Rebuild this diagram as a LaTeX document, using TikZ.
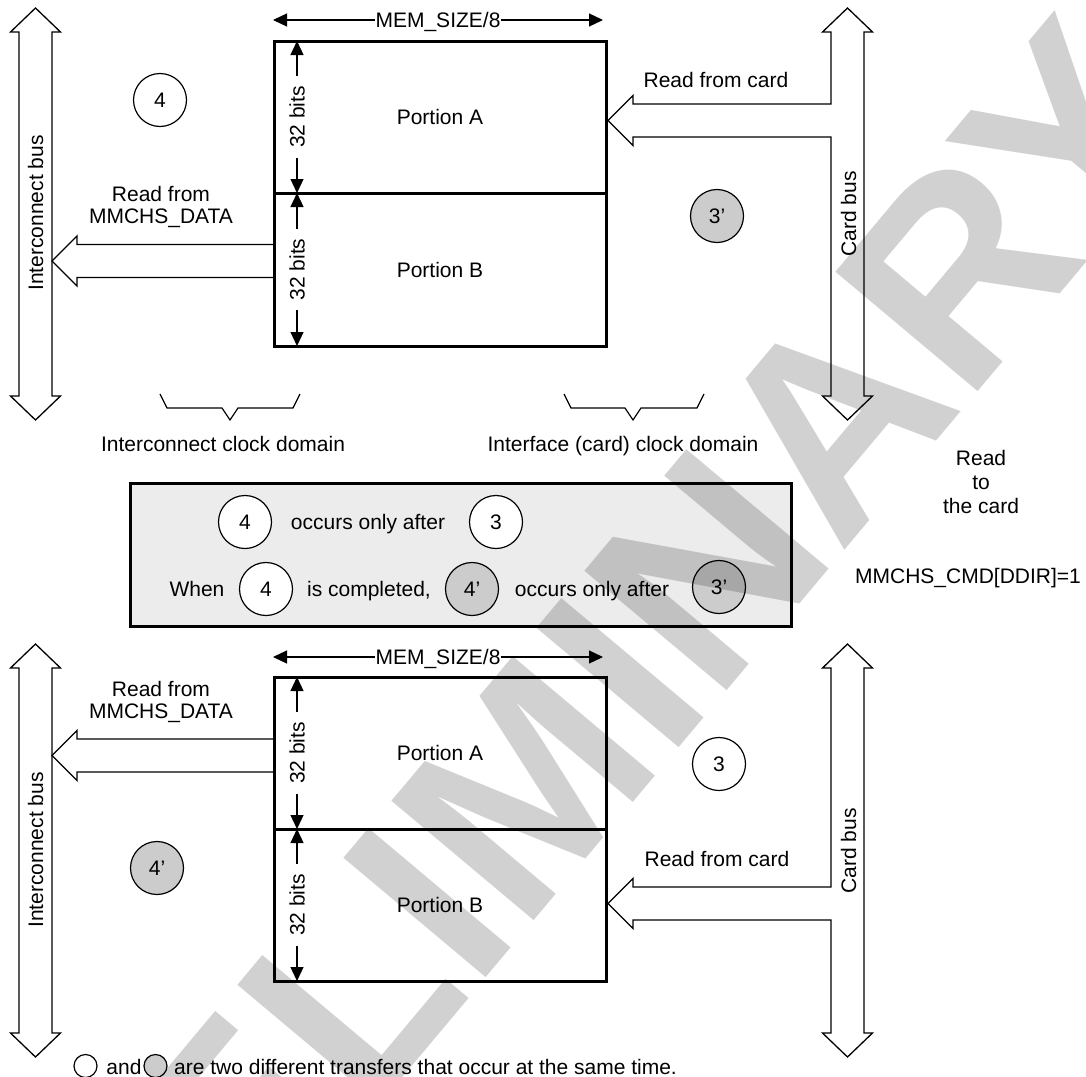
\documentclass[tikz,border=0pt]{standalone}
\usepackage{fontspec}
\setmainfont{Liberation Sans}
\usetikzlibrary{arrows.meta}
\definecolor{cgray}{RGB}{204,204,204}
\definecolor{boxgray}{RGB}{236,236,236}
\begin{document}
\begin{tikzpicture}[x=1pt,y=-1pt,
  font=\fontsize{21pt}{22.5pt}\selectfont,
  every node/.style={inner sep=0pt},
  t/.style={text height=15.3pt, text depth=0pt},
  portion/.style={draw, line width=3pt, minimum width=332pt, minimum height=152pt, t},
  tr/.style={circle, draw, line width=1.2pt, minimum size=53pt, fill=white, t},
  trg/.style={tr, fill=cgray},
  busline/.style={draw, line width=1.3pt, fill=white, line join=miter},
  dimarr/.style={line width=1.2pt, {Triangle[length=14pt,width=13pt]}-{Triangle[length=14pt,width=13pt]}},
  lbl32/.style={rotate=90, fill=white, inner xsep=10pt, t},
  memlbl/.style={fill=white, inner xsep=1pt, t},
  bracestyle/.style={line width=1.2pt},
  wm/.style={font=\fontsize{270pt}{270pt}\selectfont\bfseries, text=black, text opacity=0.18}
]
\clip (0,0) rectangle (1086,1076);
\fill[white] (0,0) rectangle (1086,1076);

% ================= TOP SECTION =================
% interconnect bus
\draw[busline] (35.5,8) -- (60.5,32) -- (52,32) -- (52,396) -- (60.5,396) -- (35.5,420) -- (10.5,396) -- (19,396) -- (19,32) -- (10.5,32) -- cycle;
\node[rotate=90, t] (ib1) at (35.5,213) {Interconnect bus};
% read from MMCHS_DATA arrow
\draw[busline] (274,244.5) -- (77,244.5) -- (77,236) -- (52,261) -- (77,286) -- (77,277.5) -- (274,277.5);
\node[align=center] (rd1) at (161,207) {Read from\\MMCHS\_DATA};
% card bus with read-from-card arrow
\draw[busline] (831,104) -- (831,32) -- (822.5,32) -- (847.5,8) -- (872.5,32) -- (864,32) -- (864,396) -- (872.5,396) -- (847.5,420) -- (822.5,396) -- (831,396) -- (831,137) -- (633,137) -- (633,145.5) -- (608,120.5) -- (633,95.5) -- (633,104) -- cycle;
\node[rotate=90, t] (cb1) at (848.5,214) {Card bus};
\node[t] (rc1) at (716,80) {Read from card};
% memory blocks
\node[portion] (pA1) at (440,117) {Portion A};
\node[portion, minimum height=153pt] (pB1) at (440,269.5) {Portion B};
\coordinate (d1a) at (297,41);
\coordinate (d1b) at (297,193);
\coordinate (d1c) at (297,346);
\draw[dimarr] (d1a) -- node[lbl32] {32 bits} (d1b);
\draw[dimarr] (d1b) -- node[lbl32] {32 bits} (d1c);
\coordinate (m1l) at (273,20);
\coordinate (m1r) at (603,20);
\draw[dimarr] (m1l) -- node[memlbl] {MEM\_SIZE/8} (m1r);
% transfers
\node[tr] (c4a) at (160,100) {4};
\node[trg] (c3pa) at (717,216) {3’};
% braces
\draw[bracestyle] (160,394) -- (167,408) -- (222,408) -- (230,420) -- (238,408) -- (293,408) -- (300,394);
\draw[bracestyle] (564,394) -- (571,408) -- (625,408) -- (633,420) -- (641,408) -- (697,408) -- (704,394);
\node[t] (icd) at (223,444) {Interconnect clock domain};
\node[t] (fcd) at (623,444) {Interface (card) clock domain};
% right notes
\node[align=center, font=\fontsize{21pt}{24pt}\selectfont] (rtc) at (981,482) {Read\\to\\the card};
\node[t] (ddir) at (968,576) {MMCHS\_CMD[DDIR]=1};

% ================= MIDDLE BOX =================
\node[draw, line width=3pt, fill=boxgray, minimum width=661pt, minimum height=143pt] (box) at (460.5,554.5) {};
\node[tr] (bc4a) at (245,522) {4};
\node[t] (bt1) at (368,522) {occurs only after};
\node[tr] (bc3) at (496,522) {3};
\node[t] (bt2) at (197,589) {When};
\node[tr] (bc4b) at (266,589) {4};
\node[t] (bt3) at (369,589) {is completed,};
\node[trg] (bc4p) at (472,589) {4’};
\node[t] (bt4) at (592,589) {occurs only after};
\node[trg] (bc3p) at (719,587) {3’};

% ================= BOTTOM SECTION =================
\draw[busline] (35.5,644) -- (60.5,668) -- (52,668) -- (52,1033) -- (60.5,1033) -- (35.5,1057) -- (10.5,1033) -- (19,1033) -- (19,668) -- (10.5,668) -- cycle;
\node[rotate=90, t] (ib2) at (35.5,850) {Interconnect bus};
\draw[busline] (274,739) -- (77,739) -- (77,730.5) -- (52,755.5) -- (77,780.5) -- (77,772) -- (274,772);
\node[align=center] (rd2) at (161,702) {Read from\\MMCHS\_DATA};
\draw[busline] (831,887) -- (831,668) -- (822.5,668) -- (847.5,644) -- (872.5,668) -- (864,668) -- (864,1033) -- (872.5,1033) -- (847.5,1057) -- (822.5,1033) -- (831,1033) -- (831,920) -- (633,920) -- (633,928.5) -- (608,903.5) -- (633,878.5) -- (633,887) -- cycle;
\node[rotate=90, t] (cb2) at (848.5,851) {Card bus};
\node[t] (rc2) at (717,859) {Read from card};
\node[portion] (pA2) at (440,753) {Portion A};
\node[portion] (pB2) at (440,905) {Portion B};
\coordinate (d2a) at (297,677);
\coordinate (d2b) at (297,829);
\coordinate (d2c) at (297,981);
\draw[dimarr] (d2a) -- node[lbl32] {32 bits} (d2b);
\draw[dimarr] (d2b) -- node[lbl32] {32 bits} (d2c);
\coordinate (m2l) at (273,657);
\coordinate (m2r) at (603,657);
\draw[dimarr] (m2l) -- node[memlbl] {MEM\_SIZE/8} (m2r);
\node[tr] (c3b) at (719,764) {3};
\node[trg] (c4pb) at (157,868) {4’};

% legend
\node[circle, draw, line width=1.2pt, minimum size=23pt, fill=white] (lgw) at (85.5,1066) {};
\node[anchor=base] (lgand) at (124,1074) {and};
\node[circle, draw, line width=1.2pt, minimum size=23pt, fill=cgray] (lgg) at (155.5,1066) {};
\node[anchor=base west] (lgtxt) at (174,1074) {are two different transfers that occur at the same time.};

% watermark
\node[wm, rotate=50] (wmk) at (535,775) {PRELIMINARY};
\end{tikzpicture}
\end{document}
